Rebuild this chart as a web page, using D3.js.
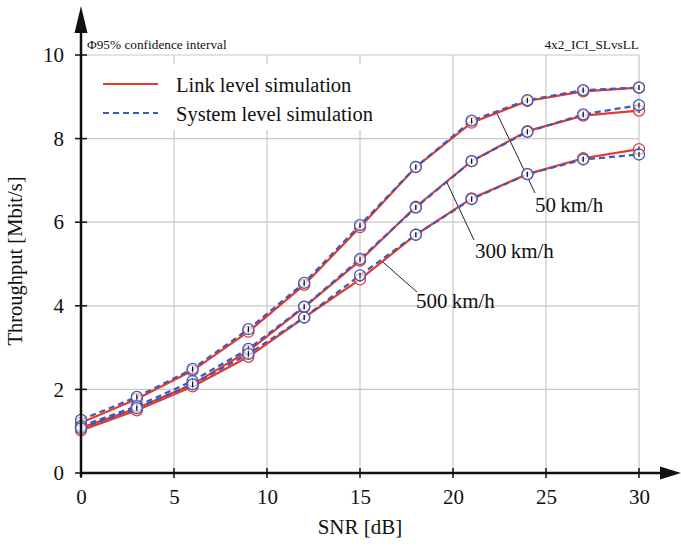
<!DOCTYPE html>
<html><head><meta charset="utf-8">
<script src="https://cdn.jsdelivr.net/npm/d3@7"></script>
<style>body{margin:0;background:#fff}svg{display:block}</style>
</head><body><svg id="c" width="681" height="547" font-family="Liberation Serif"></svg>
<script>
const snr = [0,3,6,9,12,15,18,21,24,27,30];
const ll50  = [1.20,1.77,2.45,3.38,4.50,5.88,7.32,8.38,8.90,9.13,9.22];
const sl50  = [1.27,1.82,2.49,3.44,4.55,5.93,7.32,8.43,8.92,9.16,9.22];
const ll300 = [1.08,1.55,2.12,2.92,3.97,5.08,6.37,7.46,8.18,8.55,8.67];
const sl300 = [1.12,1.60,2.20,2.97,3.98,5.12,6.35,7.46,8.16,8.58,8.80];
const ll500 = [1.02,1.50,2.07,2.78,3.72,4.63,5.70,6.57,7.15,7.53,7.75];
const sl500 = [1.07,1.55,2.12,2.85,3.72,4.73,5.70,6.55,7.15,7.50,7.62];
const xTicks = [0,5,10,15,20,25,30];
const yTicks = [0,2,4,6,8,10];
const legendLabels = ["Link level simulation","System level simulation"];
const speedLabels = ["50\u2009km/h","300\u2009km/h","500\u2009km/h"];

const FONT = '"Liberation Serif","Times New Roman",serif';
const svg = d3.select("#c");
const x = d3.scaleLinear().domain([0,30]).range([81,639]);
const y = d3.scaleLinear().domain([0,10]).range([473,55]);
const txt = (sel,size)=>sel.attr("font-family","Liberation Serif").style("font-family",FONT).style("font-size",size+"px").attr("fill","#111");

// grid
svg.append("g").selectAll("line").data(xTicks.slice(1)).join("line")
  .attr("x1",d=>x(d)).attr("x2",d=>x(d)).attr("y1",y(0)).attr("y2",y(10))
  .attr("stroke","#c8c8c8").attr("stroke-width",1.2);
svg.append("g").selectAll("line").data(yTicks.slice(1)).join("line")
  .attr("x1",x(0)).attr("x2",x(30)).attr("y1",d=>y(d)).attr("y2",d=>y(d))
  .attr("stroke","#c8c8c8").attr("stroke-width",1.2);

// legend background
svg.append("rect").attr("x",90).attr("y",64).attr("width",306).attr("height",66).attr("fill","#fff");
svg.append("line").attr("x1",103).attr("x2",158).attr("y1",84).attr("y2",84).attr("stroke","#e8392e").attr("stroke-width",2);
svg.append("line").attr("x1",103).attr("x2",158).attr("y1",113).attr("y2",113).attr("stroke","#3a5cb8").attr("stroke-width",2).attr("stroke-dasharray","6,4");
txt(svg.append("text").attr("x",176).attr("y",92).text(legendLabels[0]),20.5);
txt(svg.append("text").attr("x",176).attr("y",121).text(legendLabels[1]),20.5);

// header texts
txt(svg.append("text").attr("x",87).attr("y",49).text("\u03A695% confidence interval"),13.3);
txt(svg.append("text").attr("x",639).attr("y",49).attr("text-anchor","end").text("4x2_ICI_SLvsLL"),13.3);

// annotation lines
const ann = [
  {sx:21, lx:535, ly:193, tx:535, ty:212, t:speedLabels[0], p:0.45},
  {sx:18, lx:474, ly:240, tx:475, ty:258, t:speedLabels[1], p:0.55},
  {sx:15, lx:417, ly:292, tx:416, ty:308, t:speedLabels[2], p:0.4}
];
const ll = [ll50,ll300,ll500];
ann.forEach((a,i)=>{
  const k = snr.indexOf(a.sx);
  const xa = x(snr[k]) + (x(snr[k+1])-x(snr[k]))*a.p;
  const ya = y(ll[i][k]) + (y(ll[i][k+1])-y(ll[i][k]))*a.p;
  svg.append("line").attr("x1",xa).attr("y1",ya).attr("x2",a.lx).attr("y2",a.ly).attr("stroke","#222").attr("stroke-width",1);
  txt(svg.append("text").attr("x",a.tx).attr("y",a.ty).text(a.t),21);
});

// curves
const line = d3.line().x((d,i)=>x(snr[i])).y(d=>y(d));
const series = [
  {v:ll50,c:"#e8392e",dash:null},{v:ll300,c:"#e8392e",dash:null},{v:ll500,c:"#e8392e",dash:null},
  {v:sl50,c:"#3a5cb8",dash:"6,4"},{v:sl300,c:"#3a5cb8",dash:"6,4"},{v:sl500,c:"#3a5cb8",dash:"6,4"}
];
series.forEach(s=>{
  svg.append("path").attr("d",line(s.v)).attr("fill","none").attr("stroke",s.c).attr("stroke-width",2.2)
    .attr("stroke-dasharray",s.dash);
});
series.forEach(s=>{
  const g = svg.append("g");
  g.selectAll("circle").data(s.v).join("circle")
    .attr("cx",(d,i)=>x(snr[i])).attr("cy",d=>y(d)).attr("r",5.5)
    .attr("fill","#fff").attr("fill-opacity",0.6).attr("stroke",s.c).attr("stroke-width",1.3);
  g.selectAll("line").data(s.v).join("line")
    .attr("x1",(d,i)=>x(snr[i])).attr("x2",(d,i)=>x(snr[i]))
    .attr("y1",d=>y(d)-2.5).attr("y2",d=>y(d)+2.5).attr("stroke","#111").attr("stroke-width",1.2);
});

// axes
svg.append("line").attr("x1",x(0)).attr("x2",670).attr("y1",y(0)).attr("y2",y(0)).attr("stroke","#111").attr("stroke-width",2.5);
svg.append("path").attr("d",`M${681},${y(0)} L${660},${y(0)-6.5} L${660},${y(0)+6.5} Z`).attr("fill","#111");
svg.append("line").attr("x1",x(0)).attr("x2",x(0)).attr("y1",y(0)+4).attr("y2",16).attr("stroke","#111").attr("stroke-width",2.5);
svg.append("path").attr("d",`M${x(0)},6 L${x(0)-6.5},33 L${x(0)+6.5},33 Z`).attr("fill","#111");

const xAxis = d3.axisBottom(x).tickValues(xTicks).tickSize(0).tickPadding(16);
const gx = svg.append("g").attr("transform",`translate(0,${y(0)})`).call(xAxis).attr("font-family","Liberation Serif");
gx.select(".domain").remove();
txt(gx.selectAll("text"),21).attr("dy","0.71em");
svg.append("g").selectAll("line").data(xTicks).join("line")
  .attr("x1",d=>x(d)).attr("x2",d=>x(d)).attr("y1",y(0)-5).attr("y2",y(0)+5).attr("stroke","#111").attr("stroke-width",1.5);

const yAxis = d3.axisLeft(y).tickValues(yTicks).tickSize(0).tickPadding(17);
const gy = svg.append("g").attr("transform",`translate(${x(0)},0)`).call(yAxis).attr("font-family","Liberation Serif");
gy.select(".domain").remove();
txt(gy.selectAll("text"),21);
svg.append("g").selectAll("line").data(yTicks).join("line")
  .attr("x1",x(0)-6).attr("x2",x(0)+6).attr("y1",d=>y(d)).attr("y2",d=>y(d)).attr("stroke","#111").attr("stroke-width",1.5);

txt(svg.append("text").attr("x",360).attr("y",534).attr("text-anchor","middle").text("SNR [dB]"),21);
txt(svg.append("text").attr("transform","translate(22,261) rotate(-90)").attr("text-anchor","middle").text("Throughput [Mbit/s]"),20.5);
</script></body></html>
